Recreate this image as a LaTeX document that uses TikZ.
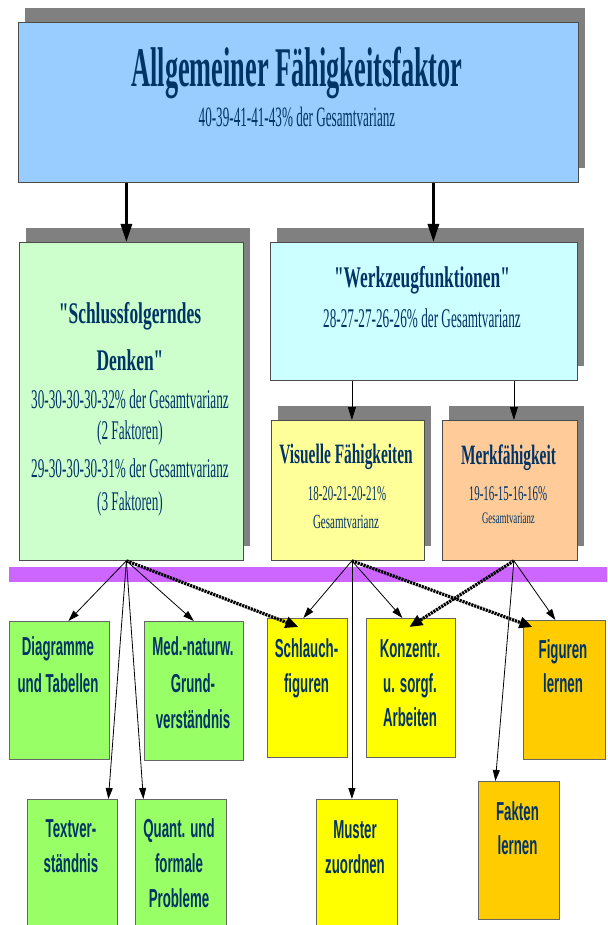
\documentclass[tikz,border=0pt]{standalone}
\usepackage{fontspec}
\usepackage{graphicx}
\usetikzlibrary{arrows.meta,shadows,calc}
\newfontfamily\tnr{Liberation Serif}
\newfontfamily\arl{Liberation Sans}
\definecolor{txtnavy}{RGB}{0,51,102}
\definecolor{cTop}{HTML}{99CCFF}
\definecolor{cGreen}{HTML}{CCFFCC}
\definecolor{cCyan}{HTML}{CCFFFF}
\definecolor{cVis}{HTML}{FFFF99}
\definecolor{cMerk}{HTML}{FFCC99}
\definecolor{cBand}{HTML}{CC66FF}
\definecolor{cLeaf}{HTML}{99FF66}
\definecolor{cYel}{HTML}{FFFF00}
\definecolor{cOra}{HTML}{FFCC00}
\definecolor{cShadow}{HTML}{808080}
\newcommand\fsz[1]{\fontsize{#1}{#1}\selectfont}
\newcommand\sansb{\arl\bfseries\fsz{26}}
\newcommand\ptxt[5]{\node[lbl,font=#3] (#1) at (#2) {\scalebox{#4}[1]{#5}};}
\begin{document}
\begin{tikzpicture}[x=1pt,y=-1pt,
  box/.style={draw=black!70, line width=0.8pt, inner sep=0, anchor=north west,
    drop shadow={shadow xshift=7pt, shadow yshift=14pt, opacity=1, fill=cShadow}},
  leaf/.style={draw=black!60, line width=0.8pt, inner sep=0, anchor=north west},
  lbl/.style={inner sep=0, anchor=base, text=txtnavy},
  bigarr/.style={line width=3pt, -{Triangle[length=18pt,width=11pt]}},
  medarr/.style={line width=0.8pt, -{Triangle[length=13pt,width=8pt]}},
  thinarr/.style={line width=0.8pt, -{Triangle[length=11pt,width=7pt]}},
  dasharr/.style={line width=3.2pt, dash pattern=on 2.2pt off 0.9pt, -{Triangle[length=13pt,width=11pt]}}]
\useasboundingbox[fill=white] (0,0) rectangle (607,925);

% upper boxes
\node[box, fill=cTop, minimum width=560pt, minimum height=160pt] (top) at (18,22) {};
\node[box, fill=cGreen, minimum width=224.4pt, minimum height=318pt] (gbox) at (18.6,242) {};
\node[box, fill=cCyan, minimum width=307pt, minimum height=138pt] (wbox) at (270,242) {};
\node[box, fill=cVis, minimum width=153pt, minimum height=140pt] (visbox) at (271,420) {};
\node[box, fill=cMerk, minimum width=135pt, minimum height=140pt] (merkbox) at (442,420) {};

% texts upper
\ptxt{t1}{297,87}{\tnr\bfseries\fsz{56}}{0.47}{Allgemeiner Fähigkeitsfaktor}
\ptxt{t2}{297,127}{\tnr\fsz{28}}{0.47}{40-39-41-41-43\% der Gesamtvarianz}

\ptxt{g1}{130,323}{\tnr\bfseries\fsz{30}}{0.58}{"Schlussfolgerndes}
\ptxt{g2}{130,370}{\tnr\bfseries\fsz{30}}{0.58}{Denken"}
\ptxt{g3}{130,408}{\tnr\fsz{27}}{0.49}{30-30-30-30-32\% der Gesamtvarianz}
\ptxt{g4}{130,439}{\tnr\fsz{27}}{0.49}{(2 Faktoren)}
\ptxt{g5}{130,477}{\tnr\fsz{27}}{0.49}{29-30-30-30-31\% der Gesamtvarianz}
\ptxt{g6}{130,510}{\tnr\fsz{27}}{0.49}{(3 Faktoren)}

\ptxt{w1}{422,287}{\tnr\bfseries\fsz{30}}{0.58}{"Werkzeugfunktionen"}
\ptxt{w2}{422,327}{\tnr\fsz{27}}{0.49}{28-27-27-26-26\% der Gesamtvarianz}

\ptxt{v1}{346,463}{\tnr\bfseries\fsz{28}}{0.55}{Visuelle Fähigkeiten}
\ptxt{v2}{347,500}{\tnr\fsz{21}}{0.52}{18-20-21-20-21\%}
\ptxt{v3}{346,528}{\tnr\fsz{20}}{0.55}{Gesamtvarianz}

\ptxt{m1}{508.5,464}{\tnr\bfseries\fsz{28}}{0.55}{Merkfähigkeit}
\ptxt{m2}{508,500}{\tnr\fsz{21}}{0.52}{19-16-15-16-16\%}
\ptxt{m3}{508.5,523}{\tnr\fsz{16}}{0.55}{Gesamtvarianz}

% band
\node[fill=cBand, inner sep=0, anchor=north west, minimum width=598.5pt, minimum height=15pt] (band) at (8.5,567) {};

% leaf boxes
\node[leaf, fill=cLeaf, minimum width=100pt, minimum height=138pt] (diag) at (9,621) {};
\node[leaf, fill=cLeaf, minimum width=99pt, minimum height=139pt] (med) at (144,621) {};
\node[leaf, fill=cYel, minimum width=80pt, minimum height=139pt] (schl) at (267,618) {};
\node[leaf, fill=cYel, minimum width=89pt, minimum height=139pt] (konz) at (366,618) {};
\node[leaf, fill=cOra, minimum width=82pt, minimum height=139pt] (figl) at (523,620) {};
\node[leaf, fill=cLeaf, minimum width=90pt, minimum height=130pt] (ntext) at (27,799) {};
\node[leaf, fill=cLeaf, minimum width=91pt, minimum height=130pt] (quant) at (135,799) {};
\node[leaf, fill=cYel, minimum width=81pt, minimum height=130pt] (must) at (316,799) {};
\node[leaf, fill=cOra, minimum width=81pt, minimum height=138pt] (fakt) at (478,781) {};

% leaf texts
\ptxt{d1}{58,655}{\sansb}{0.51}{Diagramme}
\ptxt{d2}{58,692}{\sansb}{0.51}{und Tabellen}
\ptxt{e1}{193,655}{\sansb}{0.51}{Med.-naturw.}
\ptxt{e2}{193,692}{\sansb}{0.51}{Grund-}
\ptxt{e3}{193,728}{\sansb}{0.51}{verständnis}
\ptxt{s1}{306.5,657}{\sansb}{0.51}{Schlauch-}
\ptxt{s2}{306.5,692}{\sansb}{0.51}{figuren}
\ptxt{k1}{410,657}{\sansb}{0.51}{Konzentr.}
\ptxt{k2}{410,692}{\sansb}{0.51}{u. sorgf.}
\ptxt{k3}{410,726}{\sansb}{0.51}{Arbeiten}
\ptxt{f1}{563,658}{\sansb}{0.51}{Figuren}
\ptxt{f2}{563,692}{\sansb}{0.51}{lernen}
\ptxt{x1}{71,837}{\sansb}{0.51}{Textver-}
\ptxt{x2}{71,872}{\sansb}{0.51}{ständnis}
\ptxt{q1}{179,837}{\sansb}{0.51}{Quant. und}
\ptxt{q2}{179,872}{\sansb}{0.51}{formale}
\ptxt{q3}{179,907}{\sansb}{0.51}{Probleme}
\ptxt{u1}{355,838}{\sansb}{0.51}{Muster}
\ptxt{u2}{355,873}{\sansb}{0.51}{zuordnen}
\ptxt{a1}{517.5,820}{\sansb}{0.51}{Fakten}
\ptxt{a2}{517.5,854}{\sansb}{0.51}{lernen}

% connector sources
\coordinate (gs) at ($(gbox.south)+(-4.8,0)$);
\coordinate (ys) at ($(visbox.south)+(4,0)$);
\coordinate (os) at ($(merkbox.south)+(4,0)$);
\coordinate (ws) at ($(wbox.north)+(9.5,0)$);

% upper connectors
\draw[bigarr] (top.south -| gs) -- (gbox.north -| gs);
\draw[bigarr] (top.south -| ws) -- (ws);
\draw[medarr] (wbox.south -| ys) -- (visbox.north -| ys);
\draw[medarr] (wbox.south -| os) -- (merkbox.north -| os);

% lower connectors
\draw[thinarr] (gs) -- ($(diag.north)+(9,0)$);
\draw[thinarr] (gs) -- (med.north);
\draw[thinarr] (gs) -- ($(ntext.north)+(36,0)$);
\draw[thinarr] (gs) -- ($(quant.north)+(-37.5,0)$);
\draw[dasharr] (gs) -- ($(schl.north)+(-9,9)$);
\draw[thinarr] (ys) -- ($(schl.north)+(-4,0)$);
\draw[thinarr] (ys) -- ($(konz.north)+(-8.5,0)$);
\draw[thinarr] (ys) -- (must.north -| ys);
\draw[dasharr] (ys) -- ($(figl.north)+(-32,7)$);
\draw[thinarr] (os) -- ($(figl.north)+(-9,0)$);
\draw[thinarr] (os) -- ($(fakt.north)+(-23.5,0)$);
\draw[dasharr] (os) -- ($(konz.north)+(-1.5,9)$);
\end{tikzpicture}
\end{document}
